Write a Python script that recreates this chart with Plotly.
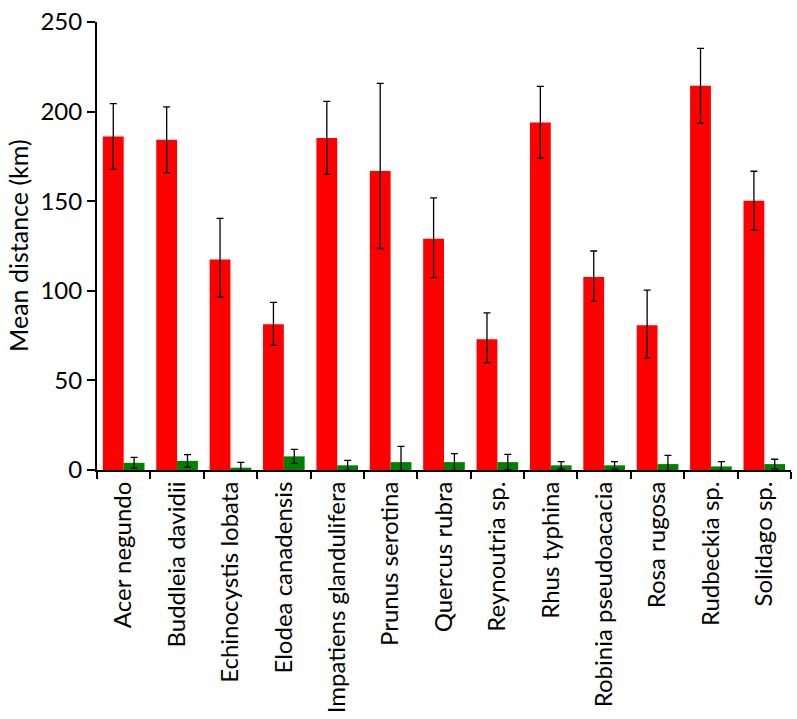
import plotly.graph_objects as go

species = [
    'Acer negundo', 'Buddleia davidii', 'Echinocystis lobata', 'Elodea canadensis',
    'Impatiens glandulifera', 'Prunus serotina', 'Quercus rubra', 'Reynoutria sp.',
    'Rhus typhina', 'Robinia pseudoacacia', 'Rosa rugosa', 'Rudbeckia sp.', 'Solidago sp.'
]

red_mean = [186.1, 184.3, 117.5, 81.3, 185.3, 166.8, 129.1, 73.0, 193.9, 107.7, 80.8, 214.4, 150.2]
red_err_plus = [18.3, 18.3, 22.9, 12.2, 20.4, 49.0, 22.7, 14.7, 20.2, 14.5, 19.6, 20.9, 16.5]
red_err_minus = [18.3, 18.3, 21.1, 11.8, 20.3, 43.2, 21.8, 13.1, 19.8, 13.6, 18.2, 21.0, 16.4]

green_mean = [4.0, 5.1, 1.3, 7.6, 2.6, 4.4, 4.4, 4.4, 2.6, 2.6, 3.3, 2.0, 3.3]
green_err = [3.0, 3.5, 3.0, 3.9, 2.8, 8.8, 4.7, 4.3, 2.1, 2.1, 4.9, 2.7, 2.7]

font_family = 'Lato, Calibri, Carlito, sans-serif'

err_style = dict(color='black', thickness=1.3, width=3.5)

fig = go.Figure()
fig.add_trace(go.Bar(
    x=species, y=red_mean, marker=dict(color='#ff0000', line=dict(width=0)),
    error_y=dict(type='data', symmetric=False, array=red_err_plus,
                 arrayminus=red_err_minus, **err_style),
))
fig.add_trace(go.Bar(
    x=species, y=green_mean, marker=dict(color='#008000', line=dict(width=0)),
    error_y=dict(type='data', array=green_err, **err_style),
))

fig.update_layout(
    width=797, height=719,
    barmode='group', bargap=0.22, bargroupgap=0,
    showlegend=False,
    plot_bgcolor='white', paper_bgcolor='white',
    margin=dict(l=97, r=6, t=13, b=247),
    font=dict(family=font_family, size=24, color='black'),
    xaxis=dict(
        showline=True, linecolor='black', linewidth=2,
        ticks='outside', tickson='boundaries', ticklen=7, tickwidth=2, tickcolor='black',
        tickangle=-90, tickfont=dict(size=24), ticklabelstandoff=0,
        showgrid=False,
    ),
    yaxis=dict(
        range=[0, 250], tickvals=[0, 50, 100, 150, 200, 250],
        showline=True, linecolor='black', linewidth=2,
        ticks='outside', ticklen=8, tickwidth=2, tickcolor='black',
        tickfont=dict(size=24), showgrid=False, zeroline=False,
        ticklabeloverflow='allow',
    ),
)

# y title placed as a rotated annotation to sit further left than the axis title allows
fig.add_annotation(
    text='Mean distance (km)', textangle=-90,
    xref='paper', yref='paper', x=-0.114, y=0.5,
    xanchor='center', yanchor='middle', showarrow=False,
    font=dict(size=25),
)

fig.write_html('out.html', config={'displayModeBar': False},
               post_script="document.body.style.margin='0';")
